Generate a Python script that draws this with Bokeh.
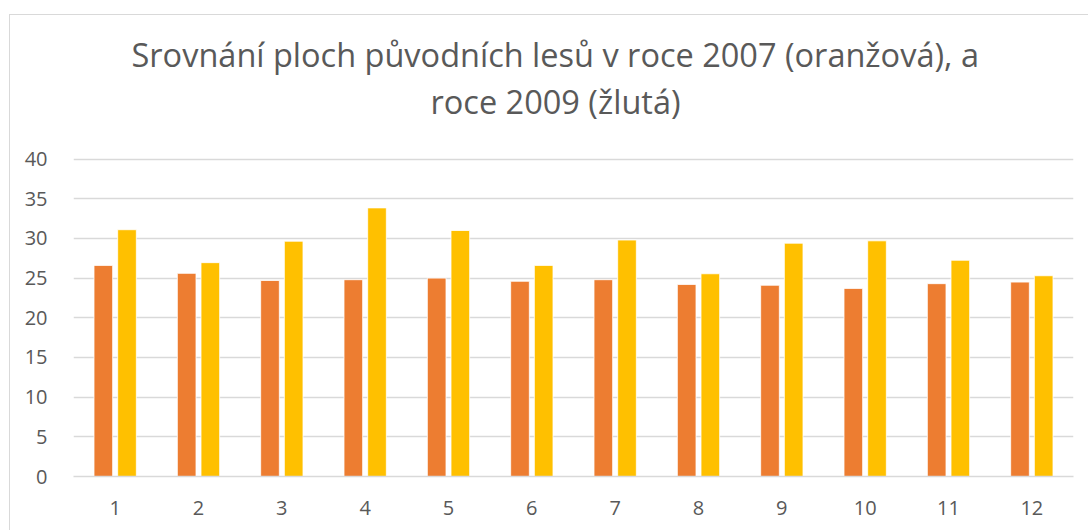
from bokeh.plotting import figure
from bokeh.models import Title, FixedTicker, ColumnDataSource
from bokeh.embed import file_html
from bokeh.resources import INLINE

categories = [1, 2, 3, 4, 5, 6, 7, 8, 9, 10, 11, 12]
values_2007 = [26.6, 25.6, 24.7, 24.8, 25.0, 24.6, 24.8, 24.2, 24.1, 23.7, 24.3, 24.5]
values_2009 = [31.1, 26.95, 29.65, 33.85, 31.0, 26.6, 29.8, 25.55, 29.4, 29.7, 27.25, 25.3]
y_ticks = [0, 5, 10, 15, 20, 25, 30, 35, 40]
title_line1 = "Srovnání ploch původních lesů v roce 2007 (oranžová), a"
title_line2 = "roce 2009 (žlutá)"

FONT = "Open Sans"
GRAY = "#595959"

offset = 0.142
bar_w = 0.224
src = ColumnDataSource(dict(
    x07=[c - offset for c in categories],
    x09=[c + offset for c in categories],
    v07=values_2007,
    v09=values_2009,
))

p = figure(width=1079, height=516, x_range=(0.5, 12.5), y_range=(0, 40.2),
           output_backend="svg", toolbar_location=None,
           min_border_left=63, min_border_right=16, min_border_bottom=55, min_border_top=142)
p.styles = {"border-left": "1px solid #d9d9d9", "border-top": "1px solid #d9d9d9",
            "margin-left": "9px", "margin-top": "14px"}

p.vbar(x="x07", top="v07", width=bar_w, source=src, fill_color="#ED7D31",
       line_color="white", line_width=0.8)
p.vbar(x="x09", top="v09", width=bar_w, source=src, fill_color="#FFC000",
       line_color="white", line_width=0.8)

p.outline_line_color = None
p.background_fill_color = "white"
p.border_fill_color = "white"

p.xgrid.grid_line_color = None
p.ygrid.grid_line_color = "#d9d9d9"
p.ygrid.grid_line_width = 1.3
p.ygrid.ticker = FixedTicker(ticks=y_ticks)

p.yaxis.ticker = FixedTicker(ticks=y_ticks)
p.xaxis.ticker = FixedTicker(ticks=categories)
for ax in (p.xaxis, p.yaxis):
    ax.major_tick_line_color = None
    ax.minor_tick_line_color = None
    ax.major_label_text_font = FONT
    ax.major_label_text_font_size = "20px"
    ax.major_label_text_color = GRAY
p.yaxis.axis_line_color = None
p.yaxis.major_label_standoff = 20
p.xaxis.axis_line_color = "#d9d9d9"
p.xaxis.axis_line_width = 1.3
p.xaxis.major_label_standoff = 18

spacer = Title(text=" ", text_font_size="1px", standoff=31, offset=0)
t2 = Title(text=title_line2, align="left", text_font=FONT, text_font_size="32.5px",
           text_font_style="normal", text_color=GRAY, standoff=0, offset=357)
t1 = Title(text=title_line1, align="left", text_font=FONT, text_font_size="32.5px",
           text_font_style="normal", text_color=GRAY, standoff=0, offset=58)
p.add_layout(spacer, "above")
p.add_layout(t2, "above")
p.add_layout(t1, "above")
p.title = None

open("out.html", "w").write(file_html(p, INLINE))
